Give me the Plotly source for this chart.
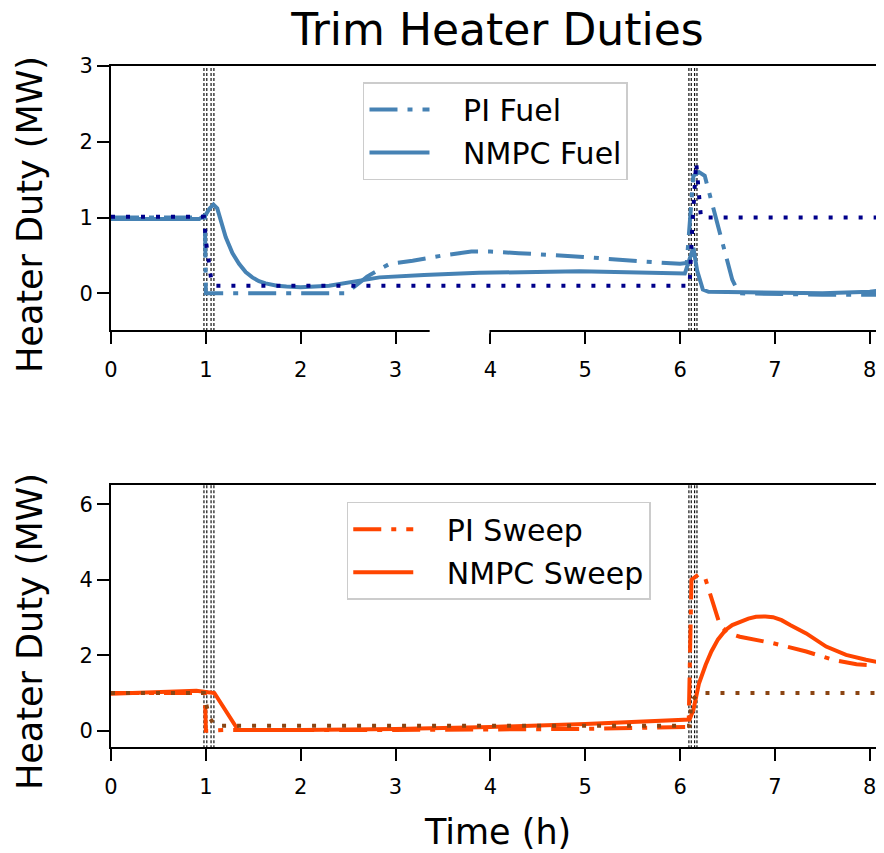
import plotly.graph_objects as go

# ---------------- data ----------------
# Top panel: fuel trim heater (MW)
t_pi_fuel = [0, 0.99, 1.0, 1.1, 2.48, 2.6, 2.7, 2.85, 2.94, 3.18, 3.5, 3.8, 4.0, 4.3,
             4.98, 5.6, 6.0, 6.07, 6.14, 6.2, 6.26, 6.55, 6.62, 7.5, 8.15]
pi_fuel = [1.0, 1.0, 0.0, 0.0, 0.0, 0.12, 0.22, 0.33, 0.39, 0.43, 0.5, 0.55, 0.55, 0.53,
           0.48, 0.42, 0.39, 0.4, 1.55, 1.6, 1.55, 0.18, 0.0, -0.02, -0.02]

t_nmpc_fuel = [0, 0.93, 1.0, 1.04, 1.08, 1.12, 1.21, 1.28, 1.35, 1.42, 1.49, 1.56, 1.63, 1.75,
               1.85, 2.0, 2.3, 2.6, 2.83, 3.3, 3.88, 4.94, 5.6, 6.05, 6.1, 6.14, 6.18, 6.24,
               6.3, 7.5, 8.0, 8.15]
nmpc_fuel = [0.98, 0.98, 1.04, 1.12, 1.17, 1.12, 0.74, 0.53, 0.39, 0.28, 0.21, 0.16, 0.13, 0.1,
             0.09, 0.08, 0.1, 0.16, 0.21, 0.24, 0.27, 0.29, 0.28, 0.26, 0.45, 0.6, 0.3, 0.05,
             0.02, 0.0, 0.02, 0.04]

t_sp_fuel = [0, 0.98, 1.0, 1.06, 1.1, 6.1, 6.13, 6.17, 6.22, 8.15]
sp_fuel = [1.01, 1.01, 0.7, 0.15, 0.1, 0.1, 0.9, 1.73, 1.0, 1.0]

# Bottom panel: sweep trim heater (MW)
t_pi_sweep = [0, 0.99, 1.0, 1.2, 3.0, 5.0, 6.07, 6.09, 6.12, 6.2, 6.26, 6.42, 6.5, 6.63,
              6.98, 7.33, 7.61, 7.86, 8.15]
pi_sweep = [1.0, 1.0, 0.0, 0.02, 0.02, 0.05, 0.1, 0.1, 4.0, 4.15, 4.08, 2.8, 2.6, 2.49,
            2.32, 2.1, 1.88, 1.76, 1.72]

t_nmpc_sweep = [0, 0.5, 0.9, 1.0, 1.09, 1.34, 2.0, 3.0, 4.0, 5.0, 5.6, 6.07, 6.1, 6.14, 6.2,
                6.27, 6.33, 6.4, 6.48, 6.55, 6.63, 6.72, 6.8, 6.9, 6.98, 7.07, 7.16, 7.33,
                7.54, 7.75, 7.96, 8.15]
nmpc_sweep = [0.98, 1.02, 1.06, 1.03, 1.0, 0.02, 0.02, 0.05, 0.1, 0.18, 0.24, 0.28, 0.3, 0.55,
              1.26, 1.75, 2.1, 2.42, 2.67, 2.8, 2.89, 2.97, 3.02, 3.03, 3.01, 2.93, 2.8, 2.58,
              2.23, 2.01, 1.88, 1.79]

t_sp_sweep = [0, 0.98, 1.0, 1.04, 1.1, 6.1, 6.12, 6.2, 8.15]
sp_sweep = [1.0, 1.0, 0.74, 0.34, 0.13, 0.13, 0.8, 1.0, 1.0]

# event markers (h)
event_times = [0.98, 1.01, 1.055, 1.085, 6.093, 6.118, 6.153, 6.178]

x_ticks = [0, 1, 2, 3, 4, 5, 6, 7, 8]
y_ticks_fuel = [0, 1, 2, 3]
y_ticks_sweep = [0, 2, 4, 6]

# ---------------- styles ----------------
FONT = "DejaVu Sans"
BLUE = "#4682B4"
NAVY = "#00008B"
ORANGE = "#FF4500"
BROWN = "#8B4513"
DASHDOT = "28px,10px,5px,10px"
DOTTED = "4px,11px"
NB = "\u00a0\u00a0\u00a0"

fig = go.Figure()

# event lines
for xa, ya in [("x", "y"), ("x2", "y2")]:
    for et in event_times:
        fig.add_trace(go.Scatter(x=[et, et], y=[-10, 10], mode="lines", xaxis=xa, yaxis=ya,
                                 line=dict(color="#111111", width=1.2, dash="3px,2px"),
                                 showlegend=False, hoverinfo="skip"))

# top panel traces
fig.add_trace(go.Scatter(x=t_pi_fuel, y=pi_fuel, mode="lines", name=NB + "PI Fuel",
                         line=dict(color=BLUE, width=4, dash=DASHDOT), xaxis="x", yaxis="y",
                         legend="legend", legendgroup="a"))
fig.add_trace(go.Scatter(x=t_nmpc_fuel, y=nmpc_fuel, mode="lines", name=NB + "NMPC Fuel",
                         line=dict(color=BLUE, width=4), xaxis="x", yaxis="y", legend="legend",
                         legendgroup="b"))
fig.add_trace(go.Scatter(x=t_sp_fuel, y=sp_fuel, mode="lines", showlegend=False,
                         line=dict(color=NAVY, width=4, dash=DOTTED), xaxis="x", yaxis="y"))

# bottom panel traces
fig.add_trace(go.Scatter(x=t_pi_sweep, y=pi_sweep, mode="lines", name=NB + "PI Sweep",
                         line=dict(color=ORANGE, width=4, dash=DASHDOT), xaxis="x2", yaxis="y2",
                         legend="legend2", legendgroup="c"))
fig.add_trace(go.Scatter(x=t_nmpc_sweep, y=nmpc_sweep, mode="lines", name=NB + "NMPC Sweep",
                         line=dict(color=ORANGE, width=4), xaxis="x2", yaxis="y2",
                         legend="legend2", legendgroup="d"))
fig.add_trace(go.Scatter(x=t_sp_sweep, y=sp_sweep, mode="lines", showlegend=False,
                         line=dict(color=BROWN, width=4, dash=DOTTED), xaxis="x2", yaxis="y2"))

axis_common = dict(showline=True, linecolor="black", linewidth=2, ticks="outside", ticklen=12,
                   tickwidth=2, tickcolor="black", showgrid=False, zeroline=False,
                   tickfont=dict(family=FONT, size=21, color="black"))

TOP_DOM = [0.6123, 1.0]
BOT_DOM = [0.0, 0.3847]

legend_common = dict(xanchor="left", yanchor="top", bgcolor="white", bordercolor="#cccccc",
                     borderwidth=1.5, itemwidth=60, traceorder="grouped", tracegroupgap=1,
                     font=dict(family=FONT, size=30, color="black"))

YSUF = "\u00a0\u00a0"

fig.update_layout(
    width=876, height=845,
    margin=dict(l=103, r=0, t=58, b=106),
    paper_bgcolor="white", plot_bgcolor="white",
    font=dict(family=FONT, color="black"),
    title=dict(text="Trim Heater Duties", x=0.5, xref="paper", xanchor="center",
               y=0.974, yref="container", yanchor="middle",
               font=dict(family=FONT, size=44, color="black")),
    xaxis=dict(domain=[0, 1], anchor="y", range=[0, 8.15], tickvals=x_ticks, mirror=True,
               ticklabelstandoff=8, **axis_common),
    yaxis=dict(domain=TOP_DOM, anchor="x", range=[-0.485, 3.0], tickvals=y_ticks_fuel,
               ticksuffix=YSUF, **axis_common),
    xaxis2=dict(domain=[0, 1], anchor="y2", range=[0, 8.15], tickvals=x_ticks, mirror=True,
                ticklabelstandoff=8, **axis_common),
    yaxis2=dict(domain=BOT_DOM, anchor="x2", range=[-0.43, 6.51], tickvals=y_ticks_sweep,
                ticksuffix=YSUF, **axis_common),
    legend=dict(x=0.326, y=0.9765, **legend_common),
    legend2=dict(x=0.305, y=0.36, **legend_common),
    showlegend=True,
)

# axis titles
fig.add_annotation(text="Time (h)", xref="paper", yref="paper", x=0.5, y=-0.125,
                   xanchor="center", yanchor="middle", showarrow=False,
                   font=dict(family=FONT, size=35, color="black"))
for yc in [0.7827, 0.1703]:
    fig.add_annotation(text="Heater Duty (MW)", xref="paper", yref="paper", x=-0.1048, y=yc,
                       xanchor="center", yanchor="middle", textangle=-90, showarrow=False,
                       font=dict(family=FONT, size=35, color="black"))

# small break in the top panel's bottom spine
fig.add_shape(type="rect", xref="x", yref="paper", x0=3.36, x1=3.99,
              y0=TOP_DOM[0] - 0.005, y1=TOP_DOM[0] + 0.005,
              fillcolor="white", line=dict(width=0), layer="above")

fig.write_html("out.html")
